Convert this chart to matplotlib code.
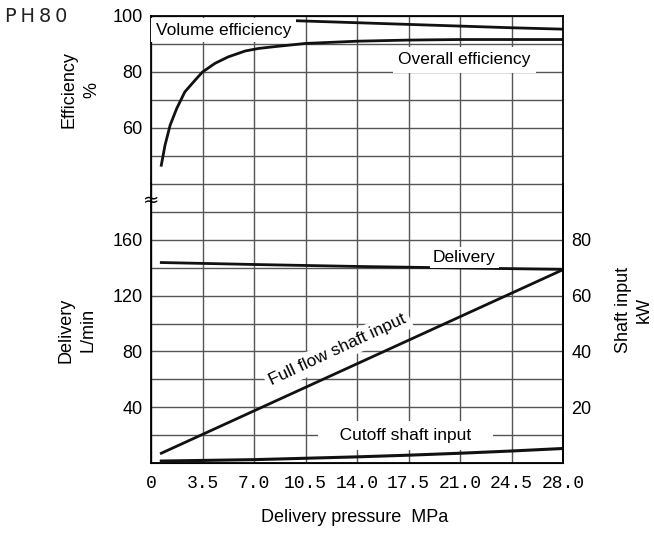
import matplotlib
matplotlib.use('Agg')
import matplotlib.pyplot as plt

plt.rcParams['font.family'] = ['Liberation Sans', 'DejaVu Sans']

# x axis: delivery pressure MPa
x_ticks = [0, 3.5, 7.0, 10.5, 14.0, 17.5, 21.0, 24.5, 28.0]
x_tick_labels = ['0', '3.5', '7.0', '10.5', '14.0', '17.5', '21.0', '24.5', '28.0']

# efficiency curves (%)
p_overall = [0.7, 0.95, 1.3, 1.75, 2.3, 3.0, 3.5, 4.35, 5.25, 6.4, 7.3, 8.3,
             10.5, 14.0, 17.5, 21.0, 24.5, 28.0]
overall_eff = [46.7, 53.8, 61.0, 67.0, 72.9, 77.1, 80.0, 83.1, 85.4, 87.5, 88.4, 89.0,
               90.2, 91.0, 91.4, 91.6, 91.6, 91.6]
p_volume = [9.9, 14.0, 17.5, 21.0, 24.5, 28.0]
volume_eff = [98.3, 97.6, 97.0, 96.4, 95.8, 95.3]

# delivery (L/min)
p_delivery = [0.7, 7.0, 14.0, 21.0, 28.0]
delivery = [143.7, 142.3, 140.9, 139.8, 138.8]

# shaft input (kW)
p_full = [0.7, 28.0]
full_input = [3.5, 69.3]
p_cutoff = [0.7, 7.0, 10.5, 14.0, 17.5, 21.0, 24.5, 28.0]
cutoff_input = [0.7, 1.2, 1.7, 2.2, 2.8, 3.5, 4.3, 5.2]

eff_ticks = [60, 80, 100]
del_ticks = [40, 80, 120, 160]
kw_ticks = [20, 40, 60, 80]

fig = plt.figure(figsize=(6.54, 5.35), dpi=100)
W, H = 654, 535
left, right = 151 / W, 563 / W
y_bot, y_mid, y_top = 1 - 463 / H, 1 - 184 / H, 1 - 16 / H

ax_eff = fig.add_axes([left, y_mid, right - left, y_top - y_mid])
ax_del = fig.add_axes([left, y_bot, right - left, y_mid - y_bot])
ax_kw = ax_del.twinx()

grid_kw = dict(color='#555555', linewidth=1.0)
fs = 13      # tick labels and axis titles
lfs = 12.5   # labels on the curves

# upper part: efficiency
ax_eff.set_xlim(0, 28)
ax_eff.set_ylim(40, 100)
ax_eff.set_xticks(x_ticks)
ax_eff.set_yticks(range(40, 101, 10))
ax_eff.set_yticklabels([str(v) if v in eff_ticks else '' for v in range(40, 101, 10)])
ax_eff.tick_params(length=0, labelbottom=False, labelsize=fs, pad=6)
ax_eff.grid(True, **grid_kw)
ax_eff.spines['bottom'].set_visible(False)
for s in ['left', 'top', 'right']:
    ax_eff.spines[s].set_linewidth(1.3)
ax_eff.plot(p_overall, overall_eff, color='#111111', lw=2)
ax_eff.plot(p_volume, volume_eff, color='#111111', lw=2)
ax_eff.text(4.95, 95.0, 'Volume efficiency', fontsize=lfs, ha='center', va='center',
            bbox=dict(facecolor='white', edgecolor='none', pad=3.5), zorder=5)
ax_eff.text(21.3, 84.3, 'Overall efficiency', fontsize=lfs, ha='center', va='center',
            bbox=dict(facecolor='white', edgecolor='none', pad=4), zorder=5)

# lower part: delivery and shaft input
ax_del.set_xlim(0, 28)
ax_del.set_ylim(0, 200)
ax_del.set_xticks(x_ticks)
ax_del.set_xticklabels(x_tick_labels, family='Liberation Mono', fontsize=11)
ax_del.set_yticks(range(0, 201, 20))
ax_del.set_yticklabels([str(v) if v in del_ticks else '' for v in range(0, 201, 20)])
ax_del.tick_params(length=0, labelsize=fs, pad=6)
ax_del.tick_params(axis='x', pad=9)
ax_del.grid(True, **grid_kw)
ax_del.spines['top'].set_visible(False)
for s in ['left', 'bottom', 'right']:
    ax_del.spines[s].set_linewidth(1.3)
ax_del.plot(p_delivery, delivery, color='#111111', lw=2)
ax_del.text(21.3, 147.5, 'Delivery', fontsize=lfs, ha='center', va='center',
            bbox=dict(facecolor='white', edgecolor='none', pad=2), zorder=5)
ax_del.text(0, 188, '≈', fontsize=14, ha='center', va='center', family='DejaVu Sans')

ax_kw.set_ylim(0, 100)
ax_kw.set_yticks(kw_ticks)
ax_kw.tick_params(length=0, labelsize=fs, pad=6)
ax_kw.spines['top'].set_visible(False)
ax_kw.spines['right'].set_linewidth(1.3)
ax_kw.plot(p_full, full_input, color='#111111', lw=2)
ax_kw.plot(p_cutoff, cutoff_input, color='#111111', lw=2.2)
ax_kw.text(12.7, 40.5, 'Full flow shaft input', fontsize=lfs, ha='center', va='center',
           rotation=25, rotation_mode='anchor',
           bbox=dict(facecolor='white', edgecolor='none', pad=3), zorder=5)
ax_kw.text(17.3, 9.7, '   Cutoff shaft input   ', fontsize=lfs, ha='center', va='center',
           bbox=dict(facecolor='white', edgecolor='none', pad=5), zorder=5)

# axis titles
fig.text(80 / W, 1 - 90 / H, 'Efficiency\n%', rotation=90, ha='center', va='center',
         fontsize=fs, linespacing=1.45, multialignment='center')
fig.text(77 / W, 1 - 330 / H, 'Delivery\nL/min', rotation=90, ha='center', va='center',
         fontsize=fs, linespacing=1.45, multialignment='center')
fig.text(634 / W, 1 - 310 / H, 'Shaft input\nkW', rotation=90, ha='center', va='center',
         fontsize=fs, linespacing=1.3, multialignment='center')
fig.text(355 / W, 1 - 517 / H, 'Delivery pressure  MPa', ha='center', va='center', fontsize=fs)
fig.text(5 / W, 1 - 16 / H, 'P\u2009H\u20098\u20090', ha='left', va='center', fontsize=14,
         family='DejaVu Sans', color='#222222')

fig.savefig('out.png', dpi=100)
